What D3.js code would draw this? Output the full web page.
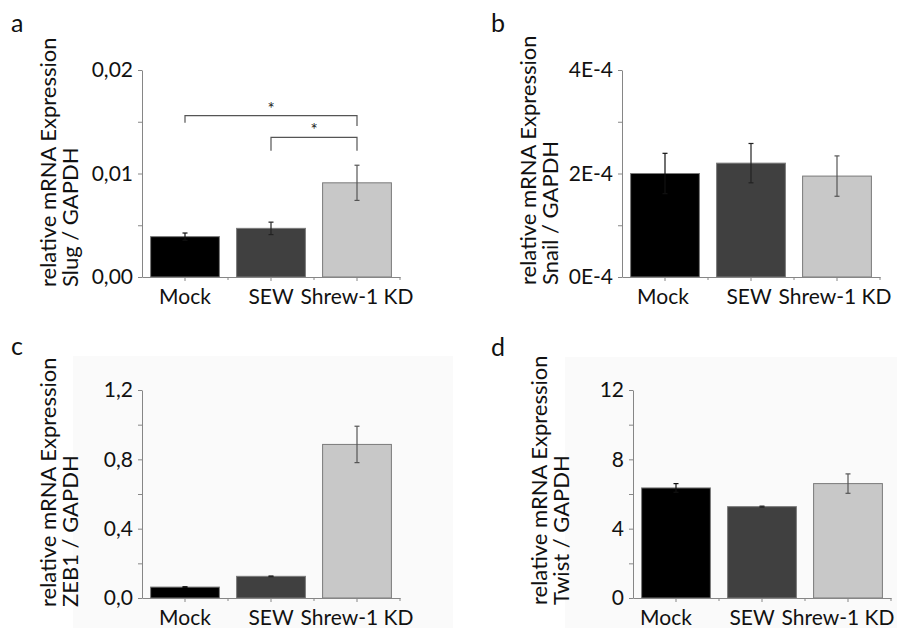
<!DOCTYPE html>
<html>
<head>
<meta charset="utf-8">
<script src="https://cdn.jsdelivr.net/npm/d3@7"></script>
<style>
  body { margin: 0; background: #fff; }
  svg { display: block; font-family: Lato, "Open Sans", sans-serif; }
</style>
</head>
<body>
<svg id="chart" width="897" height="628"></svg>
<script>
// groups and fills
var categories = ["Mock", "SEW", "Shrew-1 KD"];
var barColors = ["#000000", "#404040", "#c8c8c8"];

// a: Slug
var slugMean = [0.0039, 0.0047, 0.0091];
var slugErr = [0.00035, 0.0006, 0.0017];
var slugTicks = [0, 0.005, 0.01, 0.015, 0.02];
var slugTickLabels = ["0,00", "", "0,01", "", "0,02"];
var slugTitle = ["relative mRNA Expression", "Slug / GAPDH"];
// significance brackets: pair, bracket level, left end, right end
var slugSigPairs = [["Mock", "Shrew-1 KD"], ["SEW", "Shrew-1 KD"]];
var slugSigLevel = [0.0156, 0.0135];
var slugSigLeftEnd = [0.0149, 0.0122];
var slugSigRightEnd = [0.0146, 0.0122];

// b: Snail
var snailMean = [2.0e-4, 2.2e-4, 1.95e-4];
var snailErr = [0.39e-4, 0.38e-4, 0.39e-4];
var snailTicks = [0, 1e-4, 2e-4, 3e-4, 4e-4];
var snailTickLabels = ["0E-4", "", "2E-4", "", "4E-4"];
var snailTitle = ["relative mRNA Expression", "Snail / GAPDH"];

// c: ZEB1
var zeb1Mean = [0.063, 0.125, 0.886];
var zeb1Err = [0.002, 0.002, 0.105];
var zeb1Ticks = [0, 0.2, 0.4, 0.6, 0.8, 1.0, 1.2];
var zeb1TickLabels = ["0,0", "", "0,4", "", "0,8", "", "1,2"];
var zeb1Title = ["relative mRNA Expression", "ZEB1 / GAPDH"];

// d: Twist
var twistMean = [6.35, 5.27, 6.6];
var twistErr = [0.25, 0.03, 0.56];
var twistTicks = [0, 2, 4, 6, 8, 10, 12];
var twistTickLabels = ["0", "", "4", "", "8", "", "12"];
var twistTitle = ["relative mRNA Expression", "Twist / GAPDH"];

var AXIS_COLOR = "#868686";
var ERR_COLORS = ["#111", "#222", "#555"];
var WIDTH = 897;
var svg = d3.select("#chart");

// faint grey backdrop behind the lower two panels
svg.append("rect").attr("x", 73).attr("y", 356).attr("width", 380).attr("height", 272).attr("fill", "#fafafa");
svg.append("rect").attr("x", 565).attr("y", 357).attr("width", 332).attr("height", 271).attr("fill", "#fafafa");

function drawPanel(p) {
	var g = svg.append("g");
	var x = d3.scaleBand().domain(categories).range([p.left, p.right])
		.paddingInner(0.2).paddingOuter(0.1);
	var y = d3.scaleLinear().domain([0, p.ticks[p.ticks.length - 1]]).range([p.bottom, p.top]);

	// bars
	g.selectAll("rect.bar").data(p.mean).enter().append("rect")
		.attr("class", "bar")
		.attr("x", function(d, i) { return x(categories[i]); })
		.attr("y", function(d) { return y(d); })
		.attr("width", x.bandwidth())
		.attr("height", function(d) { return y(0) - y(d); })
		.attr("fill", function(d, i) { return barColors[i]; })
		.attr("stroke", "#7a7a7a")
		.attr("stroke-width", 1);

	// error bars
	var cap = 2.5;
	var eb = g.selectAll("g.err").data(p.mean).enter().append("g")
		.attr("stroke", function(d, i) { return ERR_COLORS[i]; })
		.attr("stroke-width", 1.2);
	eb.each(function(d, i) {
		var cx = x(categories[i]) + x.bandwidth() / 2;
		var hi = y(d + p.err[i]), lo = y(d - p.err[i]);
		var s = d3.select(this);
		s.append("line").attr("x1", cx).attr("x2", cx).attr("y1", hi).attr("y2", lo);
		s.append("line").attr("x1", cx - cap).attr("x2", cx + cap).attr("y1", hi).attr("y2", hi);
		s.append("line").attr("x1", cx - cap).attr("x2", cx + cap).attr("y1", lo).attr("y2", lo);
	});

	// y axis
	var yAxis = d3.axisLeft(y).tickValues(p.ticks).tickSize(4).tickSizeOuter(0)
		.tickFormat(function(d, i) { return p.tickLabels[i]; });
	var ya = g.append("g").attr("transform", "translate(" + p.left + ",0)").call(yAxis);
	ya.select(".domain").attr("stroke", AXIS_COLOR);
	ya.selectAll(".tick line").attr("stroke", AXIS_COLOR);
	ya.selectAll(".tick text").attr("font-size", 21).attr("fill", "#111").attr("x", -9)
		.attr("font-family", "Lato, sans-serif");

	// x axis: ticks at centres plus small ticks between groups
	var xAxis = d3.axisBottom(x).tickSize(4).tickSizeOuter(0).tickPadding(8);
	var xa = g.append("g").attr("transform", "translate(0," + p.bottom + ")").call(xAxis);
	xa.select(".domain").attr("stroke", AXIS_COLOR);
	xa.selectAll(".tick line").attr("stroke", AXIS_COLOR);
	var shift = p.labelShift || 0;
	xa.selectAll(".tick text").attr("font-size", 21).attr("fill", "#111")
		.attr("font-family", "Lato, sans-serif")
		.each(function(d) {
			// keep the last label inside the picture
			var half = this.getComputedTextLength() / 2;
			var over = x(d) + x.bandwidth() / 2 + shift + half - (WIDTH - 1);
			d3.select(this).attr("x", shift - Math.max(0, over));
		});
	var step = x.step();
	var bounds = d3.range(1, categories.length + 1).map(function(k) { return p.left + k * step; });
	xa.selectAll("line.sep").data(bounds).enter().append("line")
		.attr("x1", function(d) { return d; }).attr("x2", function(d) { return d; })
		.attr("y1", 0).attr("y2", 3)
		.attr("stroke", AXIS_COLOR);

	// axis title, two lines rotated, starting at the bottom
	var t = g.append("text")
		.attr("transform", "translate(" + (p.left - 86) + "," + p.titleStart + ") rotate(-90)")
		.attr("font-size", 22).attr("fill", "#111");
	t.append("tspan").attr("x", 0).attr("y", 0).text(p.title[0]);
	t.append("tspan").attr("x", 0).attr("y", 22).text(p.title[1]);

	// panel letter
	g.append("text").attr("x", p.letterX).attr("y", p.letterY)
		.attr("font-size", 25).attr("fill", "#111").text(p.letter);

	// significance brackets
	if (p.sigPairs) {
		p.sigPairs.forEach(function(pair, k) {
			var xa1 = x(pair[0]) + x.bandwidth() / 2;
			var xa2 = x(pair[1]) + x.bandwidth() / 2;
			var yl = y(p.sigLevel[k]);
			g.append("path")
				.attr("d", "M" + xa1 + "," + y(p.sigLeftEnd[k]) + "V" + yl + "H" + xa2 + "V" + y(p.sigRightEnd[k]))
				.attr("fill", "none").attr("stroke", "#555").attr("stroke-width", 1.2);
			g.append("text").attr("x", (xa1 + xa2) / 2).attr("y", yl - 1)
				.attr("text-anchor", "middle").attr("font-size", 17).attr("fill", "#222").text("*");
		});
	}
}

drawPanel({letter: "a", letterX: 11, letterY: 32, left: 142, right: 400, top: 70, bottom: 277,
	titleStart: 287, mean: slugMean, err: slugErr, ticks: slugTicks, tickLabels: slugTickLabels,
	title: slugTitle, sigPairs: slugSigPairs, sigLevel: slugSigLevel,
	sigLeftEnd: slugSigLeftEnd, sigRightEnd: slugSigRightEnd});
drawPanel({letter: "b", letterX: 491, letterY: 32, left: 622, right: 880, top: 70, bottom: 277,
	titleStart: 285, mean: snailMean, err: snailErr, ticks: snailTicks, tickLabels: snailTickLabels,
	title: snailTitle, labelShift: -2});
drawPanel({letter: "c", letterX: 11, letterY: 355, left: 142, right: 400, top: 390, bottom: 598,
	titleStart: 607, mean: zeb1Mean, err: zeb1Err, ticks: zeb1Ticks, tickLabels: zeb1TickLabels,
	title: zeb1Title});
drawPanel({letter: "d", letterX: 491, letterY: 356, left: 633, right: 891, top: 390, bottom: 598,
	titleStart: 605, mean: twistMean, err: twistErr, ticks: twistTicks, tickLabels: twistTickLabels,
	title: twistTitle, labelShift: -10});
</script>
</body>
</html>
